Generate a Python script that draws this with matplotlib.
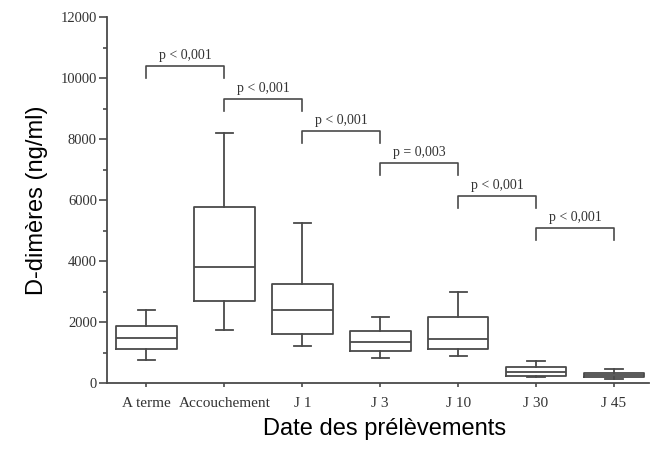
import matplotlib
matplotlib.use("Agg")
import matplotlib.pyplot as plt

categories = ["A terme", "Accouchement", "J 1", "J 3", "J 10", "J 30", "J 45"]
whislo = [750, 1740, 1215, 820, 880, 200, 150]
q1 = [1115, 2690, 1610, 1050, 1115, 230, 190]
med = [1475, 3800, 2390, 1340, 1440, 360, 260]
q3 = [1870, 5770, 3250, 1700, 2170, 520, 330]
whishi = [2390, 8200, 5250, 2170, 2990, 720, 470]

pairs = [(1, 2), (2, 3), (3, 4), (4, 5), (5, 6), (6, 7)]
bracket_tops = [10390, 9310, 8260, 7210, 6130, 5080]
p_texts = ["p < 0,001", "p < 0,001", "p < 0,001", "p = 0,003", "p < 0,001", "p < 0,001"]
yticks = [0, 2000, 4000, 6000, 8000, 10000, 12000]

col = "#4a4a4a"
serif = "Liberation Serif"
sans = "Liberation Sans"

fig = plt.figure(figsize=(6.67, 4.61), dpi=100)
ax = fig.add_axes([0.160, 0.169, 0.813, 0.794])

stats = []
for i, c in enumerate(categories):
    stats.append(dict(label=c, whislo=whislo[i], q1=q1[i], med=med[i],
                      q3=q3[i], whishi=whishi[i], fliers=[]))
ax.bxp(stats, positions=range(1, len(categories) + 1), widths=0.78,
       capwidths=0.22, showfliers=False,
       boxprops=dict(color=col, linewidth=1.3),
       medianprops=dict(color=col, linewidth=1.3),
       whiskerprops=dict(color=col, linewidth=1.3),
       capprops=dict(color=col, linewidth=1.3))

leg = 400
for (a, b), top, txt in zip(pairs, bracket_tops, p_texts):
    ax.plot([a, a, b, b], [top - leg, top, top, top - leg], color=col, lw=1.2,
            clip_on=False)
    ax.annotate(txt, xy=((a + b) / 2, top), xytext=(0, 3), textcoords="offset points",
                ha="center", va="bottom", fontsize=10, family=serif, color="#333333")

ax.set_xlim(0.49, 7.45)
ax.set_ylim(0, 12000)
ax.set_yticks(yticks)
ax.set_yticklabels([str(v) for v in yticks], family=serif, fontsize=10.5, color="#333333")
ax.set_yticks(range(1000, 12000, 2000), minor=True)
ax.set_xticks(range(1, len(categories) + 1))
ax.set_xticklabels(categories, family=serif, fontsize=11, color="#333333")
ax.tick_params(axis="y", which="major", direction="out", length=6, width=1.2, color=col, pad=1)
ax.tick_params(axis="y", which="minor", direction="out", length=3, width=1.2, color=col)
ax.tick_params(axis="x", direction="out", length=3, width=1.2, color=col, pad=7)

for s in ["top", "right"]:
    ax.spines[s].set_visible(False)
for s in ["left", "bottom"]:
    ax.spines[s].set_color(col)
    ax.spines[s].set_linewidth(1.3)

ax.set_xlabel("Date des prélèvements", family=sans, fontsize=17, labelpad=7)
ax.xaxis.set_label_coords(0.513, -0.095)
ax.set_ylabel("D-dimères (ng/ml)", family=sans, fontsize=17, labelpad=9)

fig.savefig("out.png", dpi=100)
